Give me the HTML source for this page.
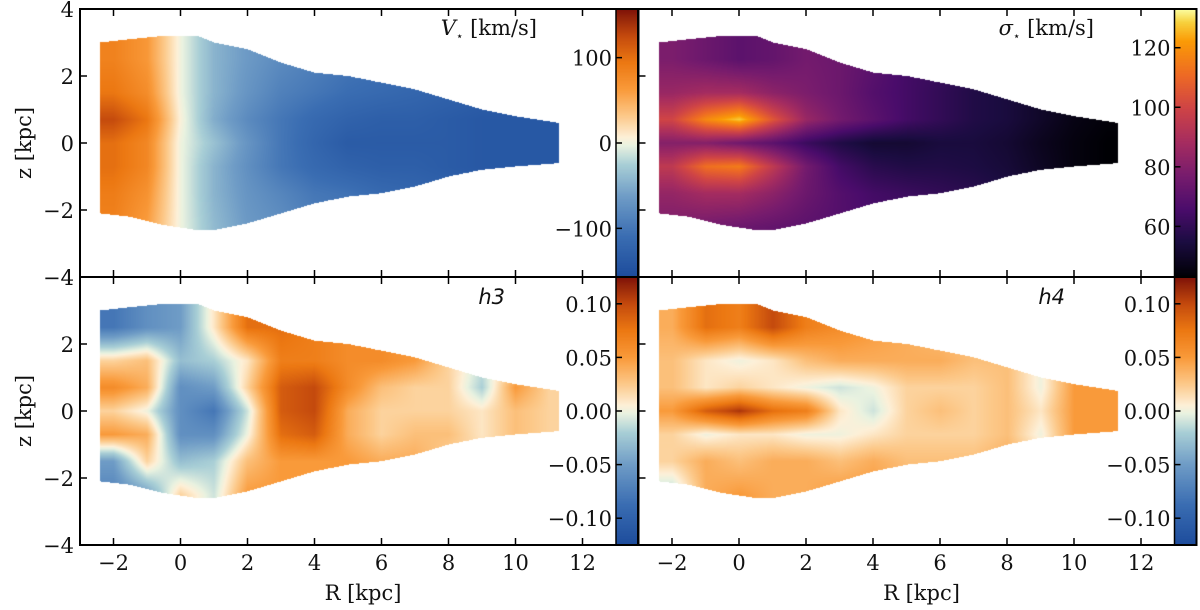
<!DOCTYPE html>
<html><head><meta charset="utf-8">
<style>
html,body{margin:0;padding:0;background:#fff;width:1200px;height:610px;overflow:hidden}
#wrap{position:relative;width:1200px;height:610px}
canvas{position:absolute}
svg{position:absolute;left:0;top:0}
text{font-family:"DejaVu Serif","Liberation Serif",serif;font-size:21px;fill:#111}
</style></head>
<body>
<div id="wrap">
<canvas id="c0"></canvas>
<canvas id="c1"></canvas>
<canvas id="c2"></canvas>
<canvas id="c3"></canvas>
<canvas id="cb0"></canvas>
<canvas id="cb1"></canvas>
<canvas id="cb2"></canvas>
<canvas id="cb3"></canvas>
<svg id="ov" width="1200" height="610"></svg>
</div>
<script>
// ---- data ----
const rCols = [-2,-1,0,1,2,3,4,5,6,7,8,9,10,11];
const zRows = [2.5,1.5,0.7,0,-0.7,-1.5,-2.5];
const outlineR = [-2.4,-1.5,-0.5,0.5,1,2,3,4,5,6,7,8,9,10,11.3];
const outlineTop = [3.0,3.1,3.2,3.2,3.0,2.8,2.4,2.1,2.0,1.8,1.6,1.3,1.0,0.8,0.6];
const outlineBot = [-2.1,-2.2,-2.45,-2.6,-2.6,-2.4,-2.1,-1.8,-1.6,-1.5,-1.3,-1.0,-0.8,-0.7,-0.6];
const vstar = [
[85,65,0,-45,-65,-80,-90,-100,-105,-110,-115,-120,-125,-130],
[95,75,0,-45,-70,-90,-100,-110,-115,-120,-125,-130,-135,-135],
[125,95,5,-50,-80,-100,-115,-125,-130,-130,-135,-140,-140,-140],
[100,80,0,-35,-70,-100,-120,-135,-135,-135,-135,-140,-140,-140],
[100,80,0,-45,-75,-100,-115,-125,-130,-130,-135,-140,-140,-140],
[90,70,0,-45,-70,-85,-100,-105,-115,-120,-125,-130,-135,-135],
[85,60,0,-40,-65,-75,-90,-100,-105,-110,-115,-120,-125,-130]];
const sigma = [
[78,74,70,72,76,74,70,64,62,58,55,52,50,48],
[85,88,88,82,78,74,68,64,60,56,54,50,48,46],
[100,118,128,105,85,76,70,64,60,56,54,50,46,44],
[80,80,75,70,62,56,52,52,54,54,52,48,45,43],
[95,112,115,95,76,64,58,56,56,55,53,49,45,43],
[84,88,88,82,74,68,64,62,60,58,55,52,48,46],
[78,76,74,72,70,68,66,64,62,60,57,54,50,48]];
const h3 = [
[-0.08,-0.06,-0.05,0.01,0.08,0.08,0.07,0.06,0.06,0.05,0.02,0.01,0.02,0.02],
[0.02,0.03,-0.03,-0.02,0.01,0.07,0.07,0.06,0.06,0.05,0.02,-0.01,0.02,0.02],
[0.06,0.04,-0.06,-0.05,0.02,0.09,0.1,0.06,0.03,0.02,0.02,-0.02,0.05,0.02],
[0.02,0.0,-0.06,-0.08,-0.01,0.09,0.1,0.04,0.02,0.02,0.02,0.01,0.03,0.02],
[0.05,0.04,-0.06,-0.06,0.0,0.08,0.09,0.04,0.02,0.03,0.03,0.01,0.03,0.02],
[-0.05,0.02,-0.03,-0.02,0.03,0.05,0.05,0.05,0.04,0.04,0.02,0.02,0.02,0.02],
[-0.07,-0.05,0.02,-0.01,0.05,0.05,0.05,0.05,0.04,0.04,0.02,0.02,0.02,0.02]];
const h4 = [
[0.04,0.08,0.07,0.1,0.07,0.06,0.05,0.04,0.03,0.03,0.02,0.02,0.05,0.05],
[0.03,0.01,0.0,0.01,0.03,0.04,0.04,0.04,0.04,0.03,0.03,0.0,0.05,0.05],
[0.03,0.01,0.02,0.01,0.0,-0.01,0.0,0.02,0.02,0.02,0.03,0.0,0.05,0.05],
[0.05,0.09,0.11,0.08,0.07,0.01,-0.01,0.02,0.03,0.02,0.03,0.01,0.05,0.05],
[0.02,0.0,0.01,0.01,0.0,0.0,0.01,0.02,0.02,0.02,0.03,0.0,0.05,0.05],
[0.02,0.04,0.03,0.04,0.04,0.03,0.04,0.03,0.03,0.03,0.04,0.02,0.05,0.05],
[-0.02,0.04,0.05,0.04,0.04,0.05,0.05,0.04,0.03,0.03,0.03,0.02,0.05,0.05]];
const xTicks = [-2,0,2,4,6,8,10,12];
const yTicks = [-4,-2,0,2,4];
const vTicks = [-100,0,100];
const sTicks = [60,80,100,120];
const hTicks = [-0.10,-0.05,0.00,0.05,0.10];

// ---- colormaps ----
const divStops=[[0,'#1d4c9c'],[0.15,'#3a6db2'],[0.3,'#6f9cc6'],[0.42,'#a9cfd6'],[0.49,'#e9f2e0'],[0.52,'#fdf0d8'],[0.6,'#fcc98a'],[0.7,'#f99a3a'],[0.8,'#ec7812'],[0.9,'#c44a0d'],[1,'#7d1208']];
const infStops=[[0,'#000004'],[0.13,'#1b0c41'],[0.25,'#4a0c6b'],[0.38,'#781c6d'],[0.5,'#a52c60'],[0.63,'#cf4446'],[0.75,'#ed6925'],[0.88,'#fb9b06'],[0.95,'#f7d13d'],[1,'#fcffa4']];
function hex(h){return [parseInt(h.slice(1,3),16),parseInt(h.slice(3,5),16),parseInt(h.slice(5,7),16)];}
function cmap(stops,t){t=Math.max(0,Math.min(1,t));for(let i=1;i<stops.length;i++){if(t<=stops[i][0]){const a=stops[i-1],b=stops[i];const f=(t-a[0])/(b[0]-a[0]);const ca=hex(a[1]),cb=hex(b[1]);return [0,1,2].map(k=>ca[k]+(cb[k]-ca[k])*f);}}return hex(stops[stops.length-1][1]);}

// ---- geometry ----
const S=33.5;
const panels=[
 {id:'c0',cb:'cb0',x0:80,y0:9,grid:vstar,stops:divStops,vmin:-157,vmax:157,ticks:vTicks,fmt:v=>v<0?'\u2212'+(-v):''+v,title:'vstar'},
 {id:'c1',cb:'cb1',x0:638.5,y0:9,grid:sigma,stops:infStops,vmin:43,vmax:133,ticks:sTicks,fmt:v=>''+v,title:'sigma'},
 {id:'c2',cb:'cb2',x0:80,y0:277,grid:h3,stops:divStops,vmin:-0.125,vmax:0.125,ticks:hTicks,fmt:v=>(v<-1e-9?'\u2212':'')+Math.abs(v).toFixed(2),title:'h3'},
 {id:'c3',cb:'cb3',x0:638.5,y0:277,grid:h4,stops:divStops,vmin:-0.125,vmax:0.125,ticks:hTicks,fmt:v=>(v<-1e-9?'\u2212':'')+Math.abs(v).toFixed(2),title:'h4'}];
const W=16*S,H=8*S;
function interp1(xs,ys,x){if(x<=xs[0])return ys[0];for(let i=1;i<xs.length;i++){if(x<=xs[i]){const f=(x-xs[i-1])/(xs[i]-xs[i-1]);return ys[i-1]+(ys[i]-ys[i-1])*f;}}return ys[ys.length-1];}
function sample(grid,R,z){
 let ci=Math.max(0,Math.min(rCols.length-2,Math.floor(R-rCols[0])));
 let fx=Math.max(0,Math.min(1,R-rCols[ci]));
 let ri=0;
 if(z>=zRows[0]){ri=0;}else{for(ri=0;ri<zRows.length-2;ri++){if(z>=zRows[ri+1])break;}}
 let fz=(zRows[ri]-z)/(zRows[ri]-zRows[ri+1]);fz=Math.max(0,Math.min(1,fz));
 const a=grid[ri][ci],b=grid[ri][ci+1],c=grid[ri+1][ci],d=grid[ri+1][ci+1];
 return (a*(1-fx)+b*fx)*(1-fz)+(c*(1-fx)+d*fx)*fz;
}
panels.forEach(p=>{
 const cv=document.getElementById(p.id);
 cv.width=Math.round(W);cv.height=Math.round(H);
 cv.style.left=p.x0+'px';cv.style.top=p.y0+'px';
 const ctx=cv.getContext('2d');const img=ctx.createImageData(cv.width,cv.height);
 for(let py=0;py<cv.height;py++){const z=4-(py+0.5)/S;
  for(let px=0;px<cv.width;px++){const R=-3+(px+0.5)/S;
   if(R<outlineR[0]||R>outlineR[outlineR.length-1])continue;
   if(z>interp1(outlineR,outlineTop,R)||z<interp1(outlineR,outlineBot,R))continue;
   const v=sample(p.grid,R,z);const col=cmap(p.stops,(v-p.vmin)/(p.vmax-p.vmin));
   const k=(py*cv.width+px)*4;img.data[k]=col[0];img.data[k+1]=col[1];img.data[k+2]=col[2];img.data[k+3]=255;}}
 ctx.putImageData(img,0,0);
 const cb=document.getElementById(p.cb);cb.width=22;cb.height=Math.round(H);
 cb.style.left=(p.x0+W)+'px';cb.style.top=p.y0+'px';
 const c2=cb.getContext('2d');
 for(let y=0;y<cb.height;y++){const col=cmap(p.stops,1-(y+0.5)/cb.height);c2.fillStyle='rgb('+col.map(Math.round).join(',')+')';c2.fillRect(0,y,22,1);}
});

// ---- overlay ----
const ov=document.getElementById('ov');const NS='http://www.w3.org/2000/svg';
function mk(tag,attrs,parent){const e=document.createElementNS(NS,tag);for(const k in attrs)e.setAttribute(k,attrs[k]);(parent||ov).appendChild(e);return e;}
const xs=R=>(R+3)*S;
panels.forEach((p,pi)=>{
 const g=mk('g',{});
 
 
 const fr=mk('rect',{x:p.x0,y:p.y0,width:W+22,height:H,fill:'none',stroke:'#000','stroke-width':2},g);
 
 
 const sep=mk('line',{x1:p.x0+W,x2:p.x0+W,y1:p.y0,y2:p.y0+H,stroke:'#000','stroke-width':1.5},g);
 
 
 xTicks.forEach(t=>{const x=p.x0+xs(t);
  const a=mk('line',{x1:x,x2:x,y1:p.y0+H,y2:p.y0+H-7,stroke:'#000','stroke-width':1.5},g);
  
  
  const b=mk('line',{x1:x,x2:x,y1:p.y0,y2:p.y0+7,stroke:'#000','stroke-width':1.5},g);
  
  
  if(pi>=2){const tl=mk('text',{x:x,y:570,'text-anchor':'middle'},g);tl.textContent=t<0?'\u2212'+(-t):''+t;
   
   }
 });
 yTicks.forEach(t=>{const y=p.y0+(4-t)*S;
  const a=mk('line',{x1:p.x0,x2:p.x0+7,y1:y,y2:y,stroke:'#000','stroke-width':1.5},g);
  
  
  if(pi%2===0){const tl=mk('text',{x:p.x0-6,y:y+8,'text-anchor':'end'},g);tl.textContent=t<0?'\u2212'+(-t):''+t;
   
   }
 });
 p.ticks.forEach(t=>{const y=p.y0+H*(1-(t-p.vmin)/(p.vmax-p.vmin));
  const a=mk('line',{x1:p.x0+W,x2:p.x0+W+6,y1:y,y2:y,stroke:'#000','stroke-width':1.5},g);
  
  
  const tl=mk('text',{x:p.x0+W-4,y:y+8,'text-anchor':'end'},g);tl.textContent=p.fmt(t);
  
  
 });
 if(pi%2===0){const yl=mk('text',{x:0,y:0,'text-anchor':'middle','font-size':25,transform:'translate(31,'+(p.y0+H/2)+') rotate(-90)'},g);yl.textContent='z [kpc]';
  
  }
 if(pi>=2){const xl=mk('text',{x:p.x0+W/2+15,y:600,'text-anchor':'middle','font-size':25},g);xl.textContent='R [kpc]';
  
  }
});
</script>
<svg width="1200" height="610" style="position:absolute;left:0;top:0">
<text x="537" y="35" text-anchor="end"><tspan font-style="italic">V</tspan><tspan font-size="12" dy="5">⋆</tspan><tspan dy="-5"> [km/s]</tspan></text>
<text x="1094" y="35" text-anchor="end"><tspan font-style="italic">σ</tspan><tspan font-size="12" dy="5">⋆</tspan><tspan dy="-5"> [km/s]</tspan></text>
<text x="505" y="304" text-anchor="end" style="font-family:'DejaVu Sans','Liberation Sans',sans-serif;font-style:italic;font-size:21px">h3</text>
<text x="1065" y="304" text-anchor="end" style="font-family:'DejaVu Sans','Liberation Sans',sans-serif;font-style:italic;font-size:21px">h4</text>
</svg>
</body></html>
